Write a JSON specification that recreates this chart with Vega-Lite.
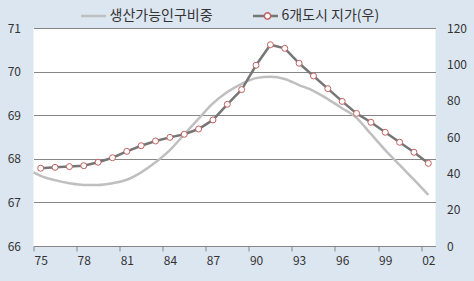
{
  "$schema": "https://vega.github.io/schema/vega-lite/v6.json",
  "width": 402,
  "height": 218,
  "autosize": "none",
  "padding": {"left": 33.5, "top": 28, "right": 38.5, "bottom": 35},
  "background": "#DCE6F1",
  "config": {
    "view": {"fill": "white", "stroke": null},
    "font": "Noto Sans CJK KR",
    "axis": {"labelFont": "Noto Sans CJK KR", "labelFontSize": 12, "labelColor": "#333333", "title": null}
  },
  "datasets": {
    "pop": [
      {"year": 1974.5, "value": 67.69},
      {"year": 1975, "value": 67.61},
      {"year": 1976, "value": 67.51},
      {"year": 1977, "value": 67.44},
      {"year": 1978, "value": 67.40},
      {"year": 1979, "value": 67.40},
      {"year": 1980, "value": 67.44},
      {"year": 1981, "value": 67.52},
      {"year": 1982, "value": 67.69},
      {"year": 1983, "value": 67.92},
      {"year": 1984, "value": 68.20},
      {"year": 1985, "value": 68.56},
      {"year": 1986, "value": 68.92},
      {"year": 1987, "value": 69.27},
      {"year": 1988, "value": 69.53},
      {"year": 1989, "value": 69.72},
      {"year": 1990, "value": 69.85},
      {"year": 1991, "value": 69.88},
      {"year": 1992, "value": 69.83},
      {"year": 1993, "value": 69.69},
      {"year": 1994, "value": 69.56},
      {"year": 1995, "value": 69.37},
      {"year": 1996, "value": 69.16},
      {"year": 1997, "value": 68.94},
      {"year": 1998, "value": 68.57},
      {"year": 1999, "value": 68.20},
      {"year": 2000, "value": 67.86},
      {"year": 2001, "value": 67.52},
      {"year": 2002, "value": 67.17}
    ],
    "land": [
      {"year": 1975, "value": 42.8},
      {"year": 1976, "value": 43.3},
      {"year": 1977, "value": 43.7},
      {"year": 1978, "value": 44.2},
      {"year": 1979, "value": 46.1},
      {"year": 1980, "value": 48.6},
      {"year": 1981, "value": 52.1},
      {"year": 1982, "value": 55.2},
      {"year": 1983, "value": 57.8},
      {"year": 1984, "value": 59.8},
      {"year": 1985, "value": 61.5},
      {"year": 1986, "value": 64.4},
      {"year": 1987, "value": 69.4},
      {"year": 1988, "value": 78.0},
      {"year": 1989, "value": 86.1},
      {"year": 1990, "value": 99.5},
      {"year": 1991, "value": 110.8},
      {"year": 1992, "value": 108.8},
      {"year": 1993, "value": 100.6},
      {"year": 1994, "value": 93.6},
      {"year": 1995, "value": 86.6},
      {"year": 1996, "value": 79.6},
      {"year": 1997, "value": 73.0},
      {"year": 1998, "value": 68.1},
      {"year": 1999, "value": 62.6},
      {"year": 2000, "value": 57.1},
      {"year": 2001, "value": 51.6},
      {"year": 2002, "value": 45.5}
    ]
  },
  "encoding": {
    "x": {
      "field": "year",
      "type": "quantitative",
      "scale": {"domain": [1974.5, 2002.5], "nice": false, "zero": false},
      "axis": {
        "values": [1975, 1978, 1981, 1984, 1987, 1990, 1993, 1996, 1999, 2002],
        "labelExpr": "substring(toString(datum.value), 2)",
        "tickOffset": -7.18,
        "labelOffset": 7.18,
        "grid": false,
        "domain": true,
        "domainColor": "#868686",
        "ticks": true,
        "tickColor": "#868686",
        "tickSize": 5,
        "labelPadding": 4,
        "labelFlush": false,
        "labelOverlap": false
      }
    }
  },
  "layer": [
    {
      "data": {"name": "pop"},
      "mark": {"type": "line", "interpolate": "monotone", "strokeWidth": 2.5},
      "encoding": {
        "y": {
          "field": "value",
          "type": "quantitative",
          "scale": {"domain": [66, 71], "nice": false, "zero": false},
          "axis": {
            "orient": "left",
            "values": [66, 67, 68, 69, 70, 71],
            "grid": true,
            "gridColor": "#868686",
            "gridOpacity": 1,
            "gridWidth": 1,
            "domain": false,
            "ticks": false,
            "labelPadding": 13
          }
        },
        "color": {
          "datum": "생산가능인구비중",
          "type": "nominal",
          "scale": {"domain": ["생산가능인구비중", "6개도시 지가(우)"], "range": ["#BFBFBF", "#767676"]},
          "legend": {
            "title": null,
            "orient": "none",
            "legendX": 46,
            "legendY": -26,
            "direction": "horizontal",
            "symbolType": "stroke",
            "symbolSize": 625,
            "symbolStrokeWidth": 2.5,
            "labelFontSize": 14,
            "labelColor": "#333333",
            "labelFont": "Noto Sans CJK KR",
            "labelOffset": 2,
            "columnPadding": 34,
            "zindex": 0
          }
        }
      }
    },
    {
      "data": {"name": "land"},
      "encoding": {
        "y": {
          "field": "value",
          "type": "quantitative",
          "scale": {"domain": [0, 120], "nice": false, "zero": true},
          "axis": {
            "orient": "right",
            "values": [0, 20, 40, 60, 80, 100, 120],
            "grid": false,
            "domain": false,
            "ticks": false,
            "labelPadding": 11
          }
        }
      },
      "layer": [
        {
          "mark": {"type": "line", "strokeWidth": 2.5},
          "encoding": {"color": {"datum": "6개도시 지가(우)", "type": "nominal"}}
        },
        {
          "mark": {"type": "point", "shape": "circle", "filled": true, "fill": "white", "stroke": "#C0605D", "strokeWidth": 1, "size": 36, "opacity": 1},
          "encoding": {
            "shape": {
              "datum": "6개도시 지가(우)",
              "type": "nominal",
              "scale": {"range": ["circle"]},
              "legend": {
                "title": null,
                "orient": "none",
                "legendX": 227,
                "legendY": -19,
                "symbolSize": 40,
                "labelFontSize": 14,
                "labelOffset": 0,
                "labelExpr": "''",
                "zindex": 2,
                "encode": {
                  "symbols": {
                    "update": {
                      "fill": {"value": "white"},
                      "stroke": {"value": "#C0605D"},
                      "strokeWidth": {"value": 1.2},
                      "opacity": {"value": 1}
                    }
                  }
                }
              }
            }
          }
        }
      ]
    }
  ],
  "resolve": {"scale": {"y": "independent"}}
}
